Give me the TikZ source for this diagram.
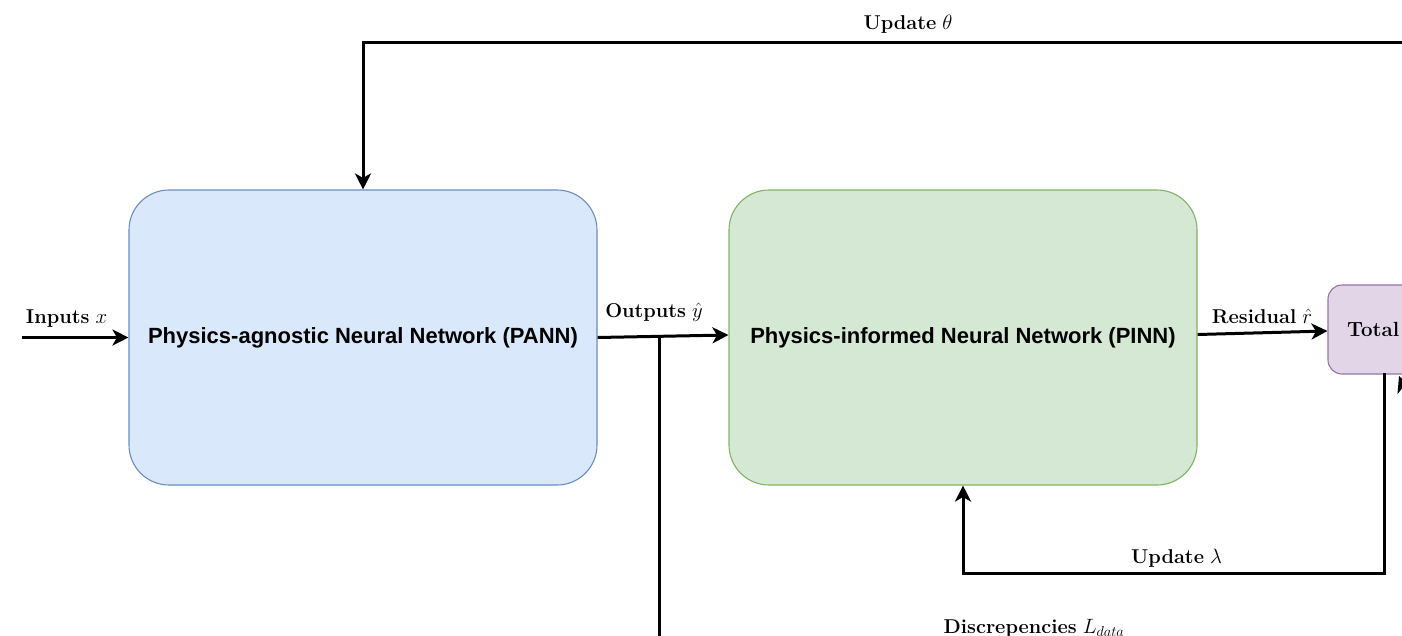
\documentclass[tikz,border=0pt]{standalone}
\usepackage{fontspec}
\newfontfamily\boxfont{Liberation Sans}
\usetikzlibrary{arrows.meta,calc}

\definecolor{pannfill}{HTML}{DAE8FC}
\definecolor{pannline}{HTML}{6C8EBF}
\definecolor{pinnfill}{HTML}{D5E8D4}
\definecolor{pinnline}{HTML}{82B366}
\definecolor{lossfill}{HTML}{E1D5E7}
\definecolor{lossline}{HTML}{9673A6}

\tikzset{
  netbox/.style={rectangle, rounded corners=40pt, minimum width=468pt,
    minimum height=295pt, inner sep=0pt, line width=1.1pt,
    font=\boxfont\bfseries\fontsize{22}{26}\selectfont},
  lossbox/.style={rectangle, rounded corners=14pt, line width=1.1pt,
    fill=lossfill, draw=lossline, minimum height=89pt, inner ysep=0pt,
    inner xsep=19pt, text width=204pt, align=left,
    font=\fontsize{20.5}{24}\selectfont},
  wire/.style={line width=3pt, line join=miter},
  flow/.style={wire, -{Stealth[length=16pt,width=16pt,inset=4.5pt]}},
  lbl/.style={anchor=base, inner sep=0pt, font=\fontsize{20}{24}\selectfont}
}

\begin{document}
\begin{tikzpicture}[x=1pt,y=-1pt]
  \useasboundingbox (0,0) rectangle (1402,635);
  \clip (0,0) rectangle (1402,635);

  % main blocks
  \node[netbox, fill=pannfill, draw=pannline] (pann) at (363,337.5)
    {Physics-agnostic Neural Network (PANN)};
  \node[netbox, fill=pinnfill, draw=pinnline] (pinn) at (963,337.5)
    {Physics-informed Neural Network (PINN)};
  \node[lossbox] (total) at (1449,329.5) {\textbf{Total}};

  % free ends of connectors
  \coordinate (inlet) at (22,337.5);
  \coordinate (tap) at (659,336.3);
  \coordinate (tapend) at (659,680);
  \coordinate (thetain) at (1430,42);
  \coordinate (lamout) at (1384,373);
  \coordinate (dtail) at (1424,438);
  \coordinate (dtip) at (1399,376);

  % forward path
  \draw[flow] (inlet) -- (pann.west);
  \draw[flow] (pann.east) -- ($(pinn.west)+(0,-2.5)$);
  \draw[wire] (tap) -- (tapend);
  \draw[flow] ($(pinn.east)+(0,-3)$) -- ($(total.west)+(0,1.5)$);

  % feedback paths
  \draw[flow] (thetain) -| (pann.north);
  \draw[flow] (lamout) -- ++(0,200) -| (pinn.south);
  \draw[flow] (dtail) -- (dtip);

  % edge labels
  \node[lbl] (inlbl) at (66.5,323) {\textbf{Inputs} $x$};
  \node[lbl] (outlbl) at (654,317) {\textbf{Outputs} $\hat{y}$};
  \node[lbl] (reslbl) at (1262,323) {\textbf{Residual} $\hat{r}$};
  \node[lbl] (thetalbl) at (908,29.5) {\textbf{Update} $\theta$};
  \node[lbl] (lamlbl) at (1176.5,563) {\textbf{Update} $\lambda$};
  \node[lbl] (disclbl) at (1034,633) {\textbf{Discrepencies} $L_{data}$};
\end{tikzpicture}
\end{document}
